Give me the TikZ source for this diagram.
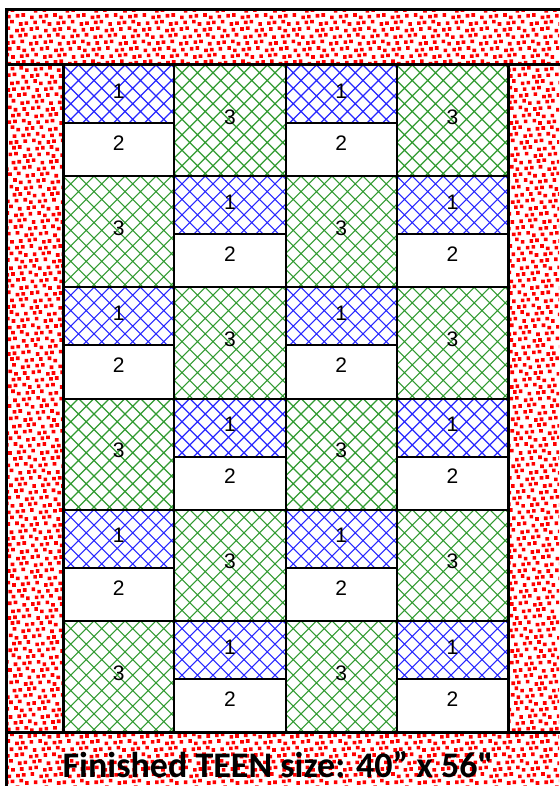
\documentclass[tikz,border=0pt]{standalone}
\usepackage{fontspec}
\setmainfont{Liberation Sans}
\newfontfamily\labelfont{Carlito}
\definecolor{dotred}{RGB}{255,0,0}
\definecolor{hatchblue}{RGB}{40,40,255}
\definecolor{hatchgreen}{RGB}{50,155,50}
\tikzset{
  frameline/.style={line width=3pt,black},
  cellline/.style={line width=2pt,black},
  hatch/.style={line width=1.1pt},
  numlabel/.style={font=\fontsize{21}{21}\selectfont,inner sep=0pt},
  sizelabel/.style={font=\labelfont\bfseries\fontsize{36}{36}\selectfont,inner sep=0pt,anchor=base}
}
% red dotted border strip: x0,y0,x1,y1
\newcommand{\reddots}[4]{%
  \begin{scope}
    \clip (#1,#2) rectangle (#3,#4);
    \pgfmathtruncatemacro{\ja}{#2/6.6-1}
    \pgfmathtruncatemacro{\jb}{#4/6.6+1}
    \pgfmathtruncatemacro{\ia}{#1/7.5-2}
    \pgfmathtruncatemacro{\ib}{#3/7.5+1}
    \fill[dotred] foreach \j in {\ja,...,\jb}{
      foreach \i in {\ia,...,\ib}{
        ({7.5*\i+mod(3.2*\j,7.5)+0.6*mod(7*\i+13*\j,5)},
         {6.6*\j+0.8*mod(11*\i+3*\j,4)}) rectangle ++(3.6,3.6)}};
  \end{scope}}
% diagonal cross hatch from the cell corner (\xa,\ya)
\newcommand{\hatchlines}[1]{%
  \draw[hatch,#1] foreach \k in {-124,-108.5,...,250}{
    (\xa+\k,\ya) -- ++(124,124) (\xa+\k,\ya) -- ++(-124,124)};}

\begin{document}
\begin{tikzpicture}[x=1pt,y=-1pt]
\useasboundingbox (0,0) rectangle (559,786);
% border
\reddots{6}{10}{559}{65}
\reddots{6}{732}{559}{786}
\reddots{6}{65}{63}{732}
\reddots{508}{65}{559}{732}
% blocks
\foreach \r in {0,...,5}{
  \foreach \c in {0,...,3}{
    \pgfmathsetmacro{\xa}{63+111.25*\c}
    \pgfmathsetmacro{\ya}{65+111.17*\r}
    \pgfmathtruncatemacro{\kind}{mod(\r+\c,2)}
    \fill[white] (\xa,\ya) rectangle ++(111.25,111.17);
    \ifnum\kind=0
      \begin{scope}
        \clip (\xa,\ya) rectangle ++(111.25,58);
        \hatchlines{hatchblue}
      \end{scope}
      \draw[cellline] (\xa,\ya+58) -- ++(111.25,0);
      \node[numlabel] (one-\r-\c) at (\xa+55.6,\ya+26) {1};
      \node[numlabel] (two-\r-\c) at (\xa+55.6,\ya+78) {2};
    \else
      \begin{scope}
        \clip (\xa,\ya) rectangle ++(111.25,111.17);
        \hatchlines{hatchgreen}
      \end{scope}
      \node[numlabel] (three-\r-\c) at (\xa+55.6,\ya+52) {3};
    \fi
    \draw[cellline] (\xa,\ya) rectangle ++(111.25,111.17);
  }
}
% frame
\draw[frameline] (6,790) -- (6,10) -- (565,10);
\draw[frameline] (6,65) -- (565,65);
\draw[frameline] (6,732) -- (565,732);
\draw[frameline] (63,65) -- (63,732);
\draw[frameline] (508,65) -- (508,732);
\node[sizelabel] (size) at (278,777) {Finished TEEN size: 40” x 56"};
\end{tikzpicture}
\end{document}
